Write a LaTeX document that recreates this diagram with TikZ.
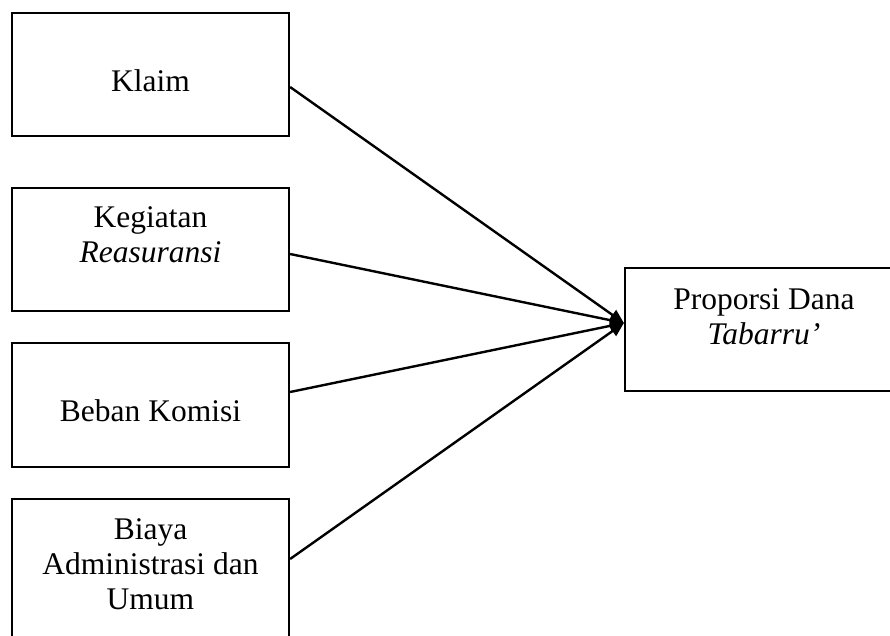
\documentclass[tikz,border=0pt]{standalone}
\usepackage{fontspec}
\setmainfont{Liberation Serif}
\usetikzlibrary{arrows.meta}
\begin{document}
\begin{tikzpicture}[x=1pt,y=-1pt,
  box/.style={draw=black,line width=2.2pt,rectangle,inner sep=0pt,minimum width=277pt,minimum height=123pt},
  lbl/.style={anchor=north,inner sep=0pt,align=center,font=\fontsize{31.5}{35}\selectfont},
  conn/.style={line width=2.4pt,-{Triangle[length=14pt,width=12pt]}}]
\useasboundingbox (0,0) rectangle (890,635);
\clip (0,0) rectangle (890,635);
\fill[white] (0,0) rectangle (890,635);
% boxes
\node[box] (klaim) at (150.5,74.5) {};
\node[box] (kegiatan) at (150.5,249.5) {};
\node[box,minimum height=124pt] (beban) at (150.5,405) {};
\node[box,minimum height=140pt] (biaya) at (150.5,569) {};
\node[box,minimum width=278pt] (prop) at (764,329.5) {};
% texts
\node[lbl] (tklaim) at (150.5,69) {Klaim};
\node[lbl] (tkegiatan) at (150.5,206) {Kegiatan\\\textit{Reasuransi}};
\node[lbl] (tbeban) at (150.5,399) {Beban Komisi};
\node[lbl] (tbiaya) at (150.5,518) {Biaya\\Administrasi dan\\Umum};
\node[lbl] (tprop) at (764,288) {Proporsi Dana\\\textit{Tabarru’}};
% connectors
\coordinate (tip) at ([yshift=6.5pt]prop.west);
\draw[conn] ([yshift=-12.5pt]klaim.east) -- (tip);
\draw[conn] ([yshift=-4.5pt]kegiatan.east) -- (tip);
\draw[conn] ([yshift=13pt]beban.east) -- (tip);
\draw[conn] ([yshift=10pt]biaya.east) -- (tip);
\end{tikzpicture}
\end{document}
